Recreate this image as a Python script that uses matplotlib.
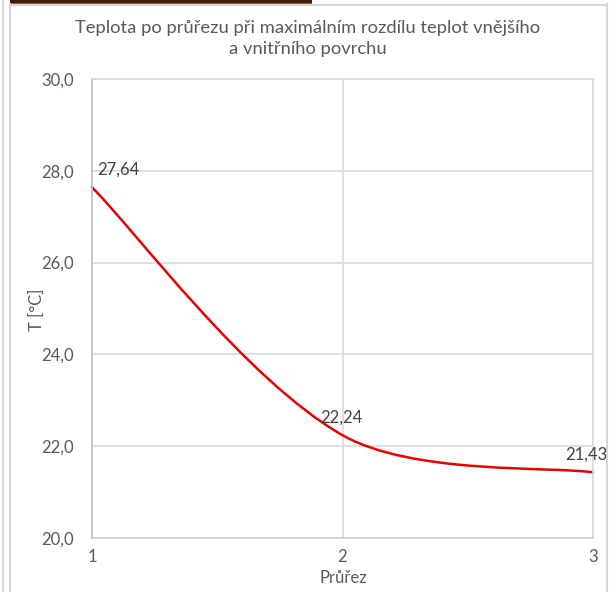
import numpy as np
import matplotlib
matplotlib.use("Agg")
import matplotlib.pyplot as plt
from matplotlib.path import Path
from matplotlib.patches import PathPatch, Rectangle
from matplotlib.lines import Line2D
from matplotlib.ticker import FixedLocator, FuncFormatter

# data
sections = [1, 2, 3]
temperatures = [27.64, 22.24, 21.43]
y_ticks = [20, 22, 24, 26, 28, 30]
x_ticks = [1, 2, 3]
title = "Teplota po průřezu při maximálním rozdílu teplot vnějšího\na vnitřního povrchu"
x_label = "Průřez"
y_label = "T [°C]"

plt.rcParams["font.family"] = ["Lato", "DejaVu Sans"]
TEXT = "#595959"
GRID = "#d9d9d9"

W, H = 610, 592
fig = plt.figure(figsize=(W / 100, H / 100), dpi=100)


def px(x, y):
    """figure pixel (from top-left) -> figure fraction"""
    return x / W, 1 - y / H


ax = fig.add_axes([92 / W, (H - 538) / H, (593 - 92) / W, (538 - 79) / H])
ax.set_xlim(x_ticks[0], x_ticks[-1])
ax.set_ylim(y_ticks[0], y_ticks[-1])
ax.xaxis.set_major_locator(FixedLocator(x_ticks))
ax.yaxis.set_major_locator(FixedLocator(y_ticks))
ax.yaxis.set_major_formatter(FuncFormatter(lambda v, p: f"{v:.1f}".replace(".", ",")))
ax.xaxis.set_major_formatter(FuncFormatter(lambda v, p: f"{v:g}"))
ax.grid(True, color=GRID, linewidth=1.2)
ax.set_axisbelow(True)
for name, sp in ax.spines.items():
    sp.set_color(GRID)
    sp.set_linewidth(1.2)
ax.spines["left"].set_color("#bfbfbf")
ax.spines["bottom"].set_color("#d0d0d0")
ax.tick_params(length=0, labelsize=12, labelcolor=TEXT)
ax.tick_params(axis="y", pad=13)
ax.tick_params(axis="x", pad=8)

# smoothed line (spreadsheet-style Bezier smoothing, computed in screen space)
pts = ax.transData.transform(np.column_stack([sections, temperatures]))
n = len(pts)
f = 1.0 / 6.0
verts = [pts[0]]
codes = [Path.MOVETO]
for i in range(n - 1):
    p0, p1 = pts[i], pts[i + 1]
    d01 = np.linalg.norm(p1 - p0)
    if i == 0:
        c1 = p0 + (p1 - p0) * f
    else:
        pm = pts[i - 1]
        dm = np.linalg.norm(p0 - pm)
        c1 = p0 + (p1 - pm) * f * 2 * d01 / (dm + d01)
    if i + 1 == n - 1:
        c2 = p1 - (p1 - p0) * f
    else:
        pn = pts[i + 2]
        dn = np.linalg.norm(pn - p1)
        c2 = p1 - (pn - p0) * f * 2 * d01 / (d01 + dn)
    verts += [c1, c2, p1]
    codes += [Path.CURVE4] * 3
verts_data = ax.transData.inverted().transform(np.array(verts))
ax.add_patch(PathPatch(Path(verts_data, codes), fill=False,
                       edgecolor="#e60000", linewidth=1.8, clip_on=False,
                       capstyle="round", joinstyle="round"))

# value labels (kept inside the plot area at the edges)
for i, (x, y) in enumerate(zip(sections, temperatures)):
    lbl = f"{y:.2f}".replace(".", ",")
    if i == 0:
        ha, dx = "left", 4
    elif i == n - 1:
        ha, dx = "center", -5
    else:
        ha, dx = "center", -1
    ax.annotate(lbl, (x, y), xytext=(dx, 13), textcoords="offset points",
                ha=ha, va="center", fontsize=12, color="#404040")

# titles and axis labels
fig.text(*px(308, 38.5), title, ha="center", va="center", fontsize=13.2,
         color=TEXT, linespacing=1.45)
fig.text(*px(343, 578), x_label, ha="center", va="center", fontsize=12, color=TEXT)
fig.text(*px(37, 310), y_label, ha="center", va="center", fontsize=12,
         color=TEXT, rotation=90)

# chart frame
frame_kw = dict(color="#d6d6d6", linewidth=1.5, transform=fig.transFigure)
fig.add_artist(Line2D([3 / W, 3 / W], [0, 1], **frame_kw))
fig.add_artist(Line2D([10 / W, 10 / W], [0, 1 - 4 / H], **frame_kw))
fig.add_artist(Line2D([10 / W, 607 / W], [1 - 4.5 / H, 1 - 4.5 / H], **frame_kw))
fig.add_artist(Line2D([607 / W, 607 / W], [0, 1 - 4 / H], **frame_kw))
fig.add_artist(Rectangle(px(10, 4), 302 / W, 4 / H, transform=fig.transFigure,
                         facecolor="#3d1c0c", edgecolor="none"))
fig.add_artist(Rectangle(px(10, 4), 302 / W, 1 / H, transform=fig.transFigure,
                         facecolor="#a0522d", edgecolor="none"))

fig.savefig("out.png", dpi=100)
